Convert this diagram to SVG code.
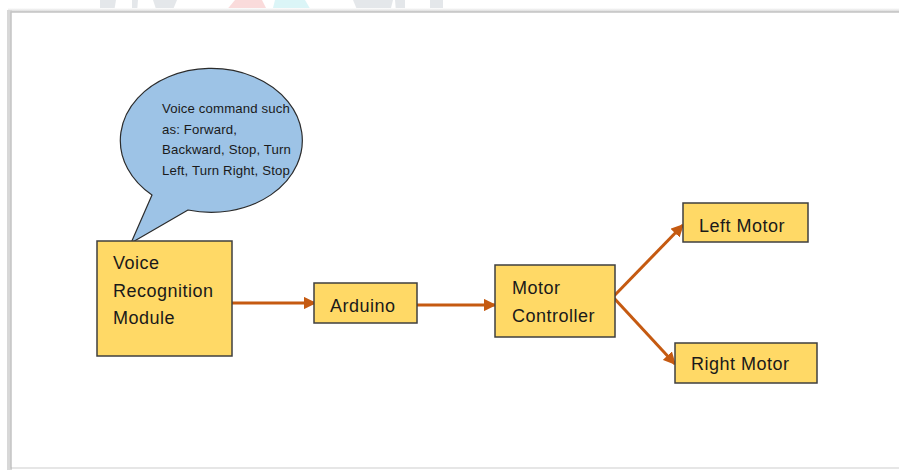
<svg xmlns="http://www.w3.org/2000/svg" width="899" height="470" viewBox="0 0 899 470">
<defs>
<style>
.box{fill:#FFD966;stroke:#3F3F3F;stroke-width:1.5}
.lbl{font-family:"Liberation Sans",Arial,sans-serif;font-size:18px;fill:#1a1a1a;letter-spacing:0.5px}
.small{font-family:"Liberation Sans",Arial,sans-serif;font-size:13.2px;fill:#1a1a1a;letter-spacing:0.15px}
.conn{stroke:#C55A11;stroke-width:3;fill:none}
</style>
<marker id="ah" viewBox="0 0 10 10" refX="9" refY="5" markerWidth="4.2" markerHeight="4.2" orient="auto" markerUnits="strokeWidth">
<path d="M0,0 L10,5 L0,10 Z" fill="#C55A11"/>
</marker>
<linearGradient id="shTop" x1="0" y1="0" x2="0" y2="1">
<stop offset="0" stop-color="#fff"/><stop offset="1" stop-color="#c8c8c8"/>
</linearGradient>
</defs>
<rect width="899" height="470" fill="#fff"/>
<!-- faint background watermark -->
<g opacity="0.3">
<path d="M100,0 L116,0 L114,12 L100,12 Z" fill="#a9b3bd"/>
<path d="M132,0 L138,0 L137,12 L132,12 Z" fill="#a9b3bd"/>
<path d="M153,0 L177,0 L172,12 L157,12 Z" fill="#a9b3bd"/>
<path d="M235,0 L262,0 L268,12 L225,12 Z" fill="#f08a8a"/>
<path d="M275,0 L305,0 L312,12 L272,12 Z" fill="#8ae0e8"/>
<path d="M353,0 L393,0 L390,12 L358,12 Z" fill="#a9b3bd"/>
<path d="M395,0 L405,0 L405,12 L396,12 Z" fill="#a9b3bd"/>
<path d="M430,0 L443,0 L443,12 L430,12 Z" fill="#a9b3bd"/>
</g>
<!-- frame -->
<rect x="8" y="8" width="891" height="5" fill="url(#shTop)"/>
<rect x="7" y="10" width="5" height="460" fill="#d8d8d8"/>
<rect x="11" y="12" width="900" height="456" fill="#fff" stroke="#c4c4c4" stroke-width="1.5"/>
<line x1="12" y1="468" x2="899" y2="468" stroke="#e6e6e6" stroke-width="2"/>

<g id="connectors">
<line class="conn" x1="232" y1="303" x2="315" y2="303" marker-end="url(#ah)"/>
<line class="conn" x1="417" y1="305" x2="495" y2="305" marker-end="url(#ah)"/>
<line class="conn" x1="613" y1="297" x2="683" y2="225" marker-end="url(#ah)"/>
<line class="conn" x1="613" y1="297" x2="675" y2="364" marker-end="url(#ah)"/>
</g>

<g id="callout">
<path d="M152,195 A91,72 0 1 1 188,210 L131,243 Z" fill="#9DC3E6" stroke="#2b2b2b" stroke-width="1.2" stroke-linejoin="round"/>
<text class="small" x="162" y="113">Voice command such</text>
<text class="small" x="162" y="133.5">as: Forward,</text>
<text class="small" x="162" y="154">Backward, Stop, Turn</text>
<text class="small" x="162" y="174.5">Left, Turn Right, Stop</text>
</g>

<g id="voice-recognition">
<rect class="box" x="97" y="241" width="135" height="115"/>
<text class="lbl" x="113" y="269">Voice</text>
<text class="lbl" x="113" y="297">Recognition</text>
<text class="lbl" x="113" y="324">Module</text>
</g>

<g id="arduino">
<rect class="box" x="314" y="283" width="103" height="40"/>
<text class="lbl" x="330" y="312">Arduino</text>
</g>

<g id="motor-controller">
<rect class="box" x="495" y="265" width="120" height="72"/>
<text class="lbl" x="512" y="293.5">Motor</text>
<text class="lbl" x="512" y="321.5">Controller</text>
</g>

<g id="left-motor">
<rect class="box" x="683" y="203" width="125" height="39"/>
<text class="lbl" x="699" y="231.5">Left Motor</text>
</g>

<g id="right-motor">
<rect class="box" x="675" y="343" width="142" height="40"/>
<text class="lbl" x="691" y="370">Right Motor</text>
</g>
</svg>
